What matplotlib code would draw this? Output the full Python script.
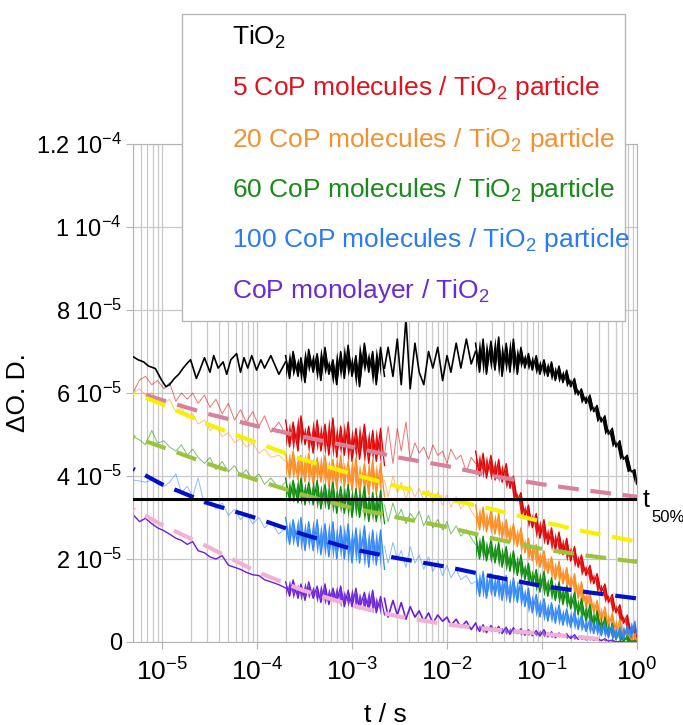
import math

import matplotlib
matplotlib.use('Agg')
from matplotlib import pyplot as plt
from matplotlib.patches import Rectangle
from matplotlib.ticker import FixedLocator, FuncFormatter, LogLocator, NullFormatter

plt.rcParams['font.family'] = 'Liberation Sans'
plt.rcParams['mathtext.fontset'] = 'custom'
plt.rcParams['mathtext.rm'] = 'Liberation Sans'
plt.rcParams['mathtext.it'] = 'Liberation Sans:italic'
plt.rcParams['mathtext.default'] = 'regular'

# all Delta O.D. values below are in units of 1e-5
scale = 1e-5

# early, sparsely sampled part of the traces
sparse1_t = [5e-6, 5.8e-6, 6.7e-6, 7.8e-6, 9e-6, 1.05e-5, 1.2e-5, 1.4e-5, 1.6e-5, 1.85e-5, 2.1e-5, 2.4e-5, 2.8e-5,
             3.2e-5, 3.7e-5, 4.3e-5, 5e-5, 5.8e-5, 6.7e-5, 7.7e-5, 9e-5, 1.05e-4, 1.2e-4, 1.4e-4, 1.7e-4, 2e-4]
red_s1 = [6.03, 6.31, 6.4, 6.2, 6.3, 6.1, 6.25, 5.8, 6.0, 5.85, 6.0, 5.75, 5.95, 5.65, 5.85, 5.5, 5.75, 5.35, 5.6,
          5.3, 5.55, 5.2, 5.45, 5.05, 5.3, 5.0]
orange_s1 = [6.0, 6.1, 5.95, 6.0, 5.8, 5.75, 5.85, 5.55, 5.65, 5.4, 5.5, 5.25, 5.35, 5.1, 5.2, 4.95, 5.05, 4.8, 4.9,
             4.7, 4.8, 4.55, 4.65, 4.45, 4.5, 4.35]
green_s1 = [4.95, 4.87, 4.75, 5.1, 4.79, 4.85, 4.7, 4.6, 4.75, 4.5, 4.65, 4.45, 4.3, 4.45, 4.15, 4.35, 4.1, 4.25, 4.0,
            4.15, 3.9, 4.05, 3.8, 3.95, 3.7, 3.85]
blue_s1 = [3.9, 3.88, 3.85, 3.9, 3.8, 3.75, 3.85, 4.05, 3.6, 3.75, 3.5, 3.95, 3.3, 3.45, 3.2, 3.35, 3.05, 3.2, 2.95,
           3.1, 2.85, 3.0, 2.75, 2.9, 2.6, 2.75]
mono_s1 = [3.06, 2.9, 2.98, 2.85, 2.75, 2.68, 2.6, 2.5, 2.45, 2.35, 2.42, 2.2, 2.15, 2.05, 2.0, 2.08, 1.85, 1.8, 1.75,
           1.68, 1.62, 1.6, 1.5, 1.45, 1.38, 1.3]

tio2_t1 = [5e-6, 5.6e-6, 6.4e-6, 7.2e-6, 8.5e-6, 9.9e-6, 1.1e-5, 1.2e-5, 1.35e-5, 1.5e-5, 1.67e-5, 1.85e-5, 2e-5,
           2.3e-5, 2.5e-5, 2.8e-5, 3.2e-5, 3.5e-5, 3.9e-5, 4.4e-5, 4.8e-5, 5.3e-5, 6.1e-5, 6.7e-5, 7.3e-5, 8e-5,
           8.8e-5, 9.9e-5, 1.1e-4, 1.2e-4, 1.4e-4, 1.7e-4, 2e-4]
tio2_s1 = [6.87, 6.8, 6.75, 6.65, 6.59, 6.31, 6.15, 6.2, 6.35, 6.45, 6.6, 6.72, 6.8, 6.35, 6.55, 6.85, 6.5, 6.9, 6.6,
           6.75, 6.45, 6.8, 6.95, 6.5, 6.85, 6.6, 6.9, 6.55, 6.8, 6.6, 6.9, 6.45, 6.75]

# first densely sampled window
dense1_t = [2e-4, 2.2e-4, 2.4e-4, 2.7e-4, 2.9e-4, 3.2e-4, 3.5e-4, 3.9e-4, 4.3e-4, 4.7e-4, 5.2e-4, 5.7e-4, 6.3e-4,
            6.9e-4, 7.6e-4, 8.3e-4, 9.1e-4, 1.0e-3, 1.1e-3, 1.2e-3, 1.35e-3, 1.5e-3, 1.65e-3, 1.8e-3, 2.0e-3, 2.2e-3]
tio2_d1 = [6.9, 6.35, 7.0, 6.4, 6.85, 6.25, 7.05, 6.5, 6.95, 6.3, 7.1, 6.45, 6.8, 6.2, 7.0, 6.35, 7.15, 6.4, 6.9,
           6.15, 7.2, 6.5, 7.0, 6.2, 7.1, 6.4]
red_d1 = [5.35, 4.7, 5.3, 4.6, 5.45, 4.75, 5.2, 4.55, 5.35, 4.6, 5.25, 4.5, 5.4, 4.45, 5.2, 4.5, 5.3, 4.35, 5.15, 4.4,
          5.25, 4.3, 5.1, 4.35, 5.15, 4.25]
orange_d1 = [4.55, 3.95, 4.6, 3.9, 4.5, 3.85, 4.55, 3.8, 4.45, 3.85, 4.5, 3.75, 4.4, 3.7, 4.5, 3.75, 4.35, 3.65, 4.45,
             3.6, 4.3, 3.55, 4.4, 3.55, 4.3, 3.5]
green_d1 = [3.95, 3.4, 3.9, 3.35, 3.95, 3.3, 3.85, 3.3, 3.9, 3.2, 3.8, 3.2, 3.85, 3.1, 3.75, 3.1, 3.8, 3.0, 3.7, 3.0,
            3.75, 2.9, 3.6, 2.9, 3.65, 2.85]
blue_d1 = [3.0, 2.35, 2.95, 2.3, 3.0, 2.2, 2.9, 2.2, 2.95, 2.1, 2.85, 2.05, 2.9, 2.0, 2.8, 2.0, 2.85, 1.9, 2.75, 1.9,
           2.8, 1.8, 2.7, 1.85, 2.7, 1.75]
mono_d1 = [1.45, 1.1, 1.5, 1.05, 1.4, 1.0, 1.45, 1.05, 1.35, 0.95, 1.4, 0.9, 1.3, 0.95, 1.35, 0.85, 1.25, 0.85, 1.3,
           0.8, 1.2, 0.75, 1.25, 0.7, 1.1, 0.65]

# second sparse window
sparse2_t = [2.2e-3, 2.4e-3, 2.7e-3, 3.0e-3, 3.3e-3, 3.7e-3, 4.1e-3, 4.6e-3, 5.1e-3, 5.7e-3, 6.4e-3, 7.1e-3, 8e-3,
             9e-3, 1e-2, 1.1e-2, 1.25e-2, 1.4e-2, 1.6e-2, 1.8e-2, 2e-2]
tio2_s2 = [6.6, 7.1, 6.4, 7.3, 6.2, 7.8, 6.1, 7.2, 6.5, 6.2, 7.0, 6.6, 7.1, 6.3, 6.9, 6.5, 7.2, 6.6, 7.3, 6.7, 7.0]
red_s2 = [4.5, 5.2, 4.3, 5.15, 4.6, 5.3, 4.4, 4.8, 4.55, 4.7, 4.4, 4.75, 4.5, 4.6, 4.3, 4.65, 4.4, 4.5, 4.1, 4.45, 4.3]
orange_s2 = [3.9, 3.5, 4.0, 3.6, 3.85, 3.45, 3.75, 3.5, 3.7, 3.4, 3.65, 3.35, 3.6, 3.3, 3.55, 3.25, 3.5, 3.2, 3.4,
             3.15, 3.0]
green_s2 = [3.3, 2.9, 3.35, 3.0, 3.2, 2.85, 3.1, 2.95, 3.15, 2.8, 3.05, 2.75, 2.95, 2.7, 2.9, 2.6, 2.8, 2.55, 2.7,
            2.5, 2.35]
blue_s2 = [2.3, 1.9, 2.4, 2.0, 2.2, 1.8, 2.3, 1.9, 2.1, 1.75, 2.05, 1.7, 1.95, 1.6, 1.85, 1.55, 1.75, 1.5, 1.6, 1.4,
           1.45]
mono_s2 = [1.05, 0.6, 1.0, 0.65, 0.95, 0.55, 0.85, 0.6, 0.75, 0.5, 0.7, 0.45, 0.65, 0.5, 0.6, 0.4, 0.55, 0.35, 0.5,
           0.3, 0.45]

# second dense window
dense2_t = [0.02, 0.022, 0.024, 0.026, 0.029, 0.032, 0.035, 0.038, 0.042, 0.046, 0.05, 0.055, 0.06, 0.066, 0.072,
            0.079, 0.087, 0.095, 0.105, 0.115, 0.126, 0.138, 0.151, 0.166, 0.182, 0.2, 0.22, 0.24, 0.26, 0.29, 0.32,
            0.35, 0.38, 0.42, 0.46, 0.5, 0.55, 0.6, 0.66, 0.72, 0.79, 0.87, 0.95, 1.0]
tio2_d2 = [7.2, 6.5, 7.3, 6.45, 7.25, 6.55, 7.35, 6.4, 7.2, 6.5, 7.3, 6.45, 7.1, 6.6, 6.95, 6.55, 6.9, 6.45, 6.8, 6.4,
           6.75, 6.3, 6.65, 6.25, 6.55, 6.15, 6.35, 5.95, 6.1, 5.75, 5.95, 5.55, 5.7, 5.3, 5.45, 5.0, 5.15, 4.7, 4.85,
           4.4, 4.5, 4.1, 4.15, 3.8]
red_d2 = [4.6, 4.0, 4.55, 3.95, 4.5, 3.9, 4.4, 3.85, 4.3, 3.7, 4.0, 3.4, 3.6, 3.0, 3.3, 2.75, 3.1, 2.5, 2.95, 2.35,
          2.75, 2.2, 2.65, 2.1, 2.5, 1.95, 2.3, 1.8, 2.1, 1.6, 1.85, 1.4, 1.65, 1.2, 1.4, 0.95, 1.15, 0.7, 0.9, 0.45,
          0.65, 0.2, 0.4, 0.05]
orange_d2 = [3.3, 2.7, 3.25, 2.65, 3.15, 2.6, 3.1, 2.5, 2.95, 2.4, 2.85, 2.3, 2.75, 2.15, 2.5, 1.95, 2.35, 1.8, 2.2,
             1.65, 2.05, 1.5, 1.95, 1.4, 1.8, 1.25, 1.65, 1.05, 1.45, 0.85, 1.2, 0.7, 1.0, 0.5, 0.85, 0.35, 0.7, 0.2,
             0.55, 0.1, 0.35, 0.0, 0.2, 0.0]
green_d2 = [2.6, 2.0, 2.55, 1.95, 2.45, 1.9, 2.4, 1.8, 2.3, 1.7, 2.2, 1.6, 2.1, 1.5, 1.9, 1.35, 1.75, 1.2, 1.7, 1.1,
            1.55, 1.0, 1.45, 0.9, 1.35, 0.8, 1.2, 0.65, 1.05, 0.5, 0.9, 0.35, 0.75, 0.25, 0.6, 0.15, 0.45, 0.05, 0.3,
            0.0, 0.15, 0.0, 0.05, 0.0]
blue_d2 = [1.7, 1.1, 1.7, 1.05, 1.65, 1.1, 1.6, 1.0, 1.6, 0.95, 1.55, 0.95, 1.5, 0.85, 1.3, 0.7, 1.15, 0.6, 1.05, 0.5,
           0.95, 0.45, 0.9, 0.4, 0.8, 0.35, 0.75, 0.3, 0.65, 0.25, 0.55, 0.2, 0.5, 0.15, 0.45, 0.1, 0.4, 0.05, 0.35,
           0.05, 0.4, 0.1, 0.5, 0.2]
mono_d2 = [0.45, 0.25, 0.42, 0.22, 0.4, 0.25, 0.38, 0.2, 0.36, 0.18, 0.35, 0.2, 0.32, 0.16, 0.3, 0.15, 0.28, 0.14,
           0.3, 0.12, 0.25, 0.1, 0.22, 0.12, 0.2, 0.08, 0.18, 0.06, 0.15, 0.05, 0.12, 0.04, 0.1, 0.03, 0.08, 0.02,
           0.05, 0.0, 0.02, 0.0, 0.0, 0.0, 0.0, 0.0]

# fits
fit_t = [5e-6, 1e-5, 3e-5, 1e-4, 3e-4, 1e-3, 3e-3, 1e-2, 3e-2, 1e-1, 3e-1, 1.]
fit_red = [6.05, 5.83, 5.5, 5.2, 4.95, 4.7, 4.45, 4.24, 4.0, 3.8, 3.65, 3.5]
fit_orange = [6.0, 5.73, 5.25, 4.8, 4.4, 4.05, 3.75, 3.45, 3.2, 2.9, 2.65, 2.42]
fit_green = [4.94, 4.7, 4.3, 3.9, 3.55, 3.23, 3.0, 2.77, 2.5, 2.24, 2.08, 1.93]
fit_blue = [4.17, 3.8, 3.35, 2.98, 2.6, 2.24, 2.02, 1.81, 1.58, 1.35, 1.2, 1.05]
fit_mono_t = [5e-6, 1e-5, 3e-5, 1e-4, 3e-4, 1e-3, 3e-3, 1e-2, 3e-2, 1e-1, 3e-1, 5e-1]
fit_mono = [3.2, 2.82, 2.3, 1.69, 1.25, 0.88, 0.62, 0.42, 0.3, 0.2, 0.1, 0.05]

t50 = 3.45

labels = ['TiO$_2$', '5 CoP molecules / TiO$_2$ particle', '20 CoP molecules / TiO$_2$ particle',
          '60 CoP molecules / TiO$_2$ particle', '100 CoP molecules / TiO$_2$ particle', 'CoP monolayer / TiO$_2$']
label_colors = ['#000000', '#e0141e', '#f39030', '#1a8a1a', '#2a7af0', '#6a2bd0']
yticks = [0, 2e-5, 4e-5, 6e-5, 8e-5, 1e-4, 1.2e-4]
yticklabels = ['0', '2 10$^{-5}$', '4 10$^{-5}$', '6 10$^{-5}$', '8 10$^{-5}$', '1 10$^{-4}$', '1.2 10$^{-4}$']


def sc(values):
    return [v*scale for v in values]


def plot_dense(ax, t, y, color, zorder, lw=0.9, alpha=0.9):
    # densely sampled noise: fill between successive samples, then draw the samples
    ax.fill_between(t[:-1], sc(y[:-1]), sc(y[1:]), color=color, lw=0, alpha=alpha, zorder=zorder)
    ax.plot(t, sc(y), color=color, lw=lw, zorder=zorder)


fig = plt.figure(figsize=(6.83, 7.25), dpi=100)
ax = fig.add_axes([0.1947, 0.1145, 0.7379, 0.6869])
ax.set_xscale('log')
ax.set_xlim(4.95e-6, 1.)
ax.set_ylim(0, 1.2e-4)

grid_color = '#c8c8c8'
ax.set_axisbelow(True)
ax.grid(True, which='both', axis='x', color=grid_color, lw=0.9)
ax.grid(True, which='major', axis='y', color=grid_color, lw=0.9)
for sp in ax.spines.values():
    sp.set_color('#b4b4b4')

traces = [('#e00000', red_s1, red_d1, red_s2, red_d2),
          ('#ff8a1c', orange_s1, orange_d1, orange_s2, orange_d2),
          ('#0a8a0a', green_s1, green_d1, green_s2, green_d2),
          ('#2f86f6', blue_s1, blue_d1, blue_s2, blue_d2)]
for color, s1, d1, s2, d2 in traces:
    ax.plot(sparse1_t, sc(s1), color=color, lw=0.7, alpha=0.55, zorder=2)
    plot_dense(ax, dense1_t, d1, color, 2)
    ax.plot(sparse2_t, sc(s2), color=color, lw=0.7, alpha=0.55, zorder=2)
    plot_dense(ax, dense2_t, d2, color, 2)

mono_color = '#6a1fd6'
ax.plot(sparse1_t, sc(mono_s1), color=mono_color, lw=1.0, zorder=2)
plot_dense(ax, dense1_t, mono_d1, mono_color, 2)
ax.plot(sparse2_t, sc(mono_s2), color=mono_color, lw=1.2, zorder=2)
plot_dense(ax, dense2_t, mono_d2, mono_color, 2, alpha=0.7)

ax.plot(tio2_t1, sc(tio2_s1), color='k', lw=1.2, zorder=3)
plot_dense(ax, dense1_t, tio2_d1, 'k', 3, lw=1.1, alpha=1)
ax.plot(sparse2_t, sc(tio2_s2), color='k', lw=1.2, zorder=3)
plot_dense(ax, dense2_t, tio2_d2, 'k', 3, lw=1.1, alpha=1)

# fits, dashed; the dash offset leaves a dot at t = 5 us
dash = (4.6, (5, 2.8))
for vals, color in [(fit_red, '#d9819b'), (fit_orange, '#f8f000'), (fit_green, '#9bc43c'), (fit_blue, '#0010c8')]:
    ax.plot(fit_t, sc(vals), color=color, lw=3, ls=dash, zorder=4)
ax.plot(fit_mono_t, sc(fit_mono), color='#f2b0d6', lw=3, ls=dash, zorder=4)

ax.axhline(t50*scale, color='k', lw=2.2, zorder=5)
ax.text(1.012, 3.25e-5, 't', transform=ax.get_yaxis_transform(), fontsize=18, va='baseline', ha='left',
        clip_on=False)
ax.text(1.028, 2.89e-5, '50%', transform=ax.get_yaxis_transform(), fontsize=12, va='baseline', ha='left',
        clip_on=False)

ax.yaxis.set_major_locator(FixedLocator(yticks))
ax.set_yticklabels(yticklabels)
ax.xaxis.set_major_locator(LogLocator(base=10, numticks=10))
ax.xaxis.set_minor_locator(LogLocator(base=10, subs=range(2, 10), numticks=20))
ax.xaxis.set_major_formatter(FuncFormatter(lambda x, pos: '10$^{%d}$' % round(math.log10(x))))
ax.xaxis.set_minor_formatter(NullFormatter())
ax.tick_params(axis='y', which='major', labelsize=17, length=5, color='#b4b4b4', pad=3)
ax.tick_params(axis='x', which='major', labelsize=19, length=5, color='#b4b4b4', pad=7)
ax.tick_params(axis='x', which='minor', length=0)

ax.set_xlabel('t / s', fontsize=19, labelpad=12)
ax.set_ylabel('\u0394O. D.', fontsize=19, labelpad=4)

# legend box: text only, coloured labels
fig.add_artist(Rectangle((0.2665, 0.5572), 0.6486, 0.4234, transform=fig.transFigure, facecolor='white',
                         edgecolor='#b8b8b8', lw=1.0, zorder=10))
baselines = [45, 95, 147, 197, 247, 298]
for lab, col, yb in zip(labels, label_colors, baselines):
    fig.text(0.3397, 1 - yb/725., lab, color=col, fontsize=19, va='baseline', ha='left', zorder=11)

fig.savefig('out.png', dpi=100)
